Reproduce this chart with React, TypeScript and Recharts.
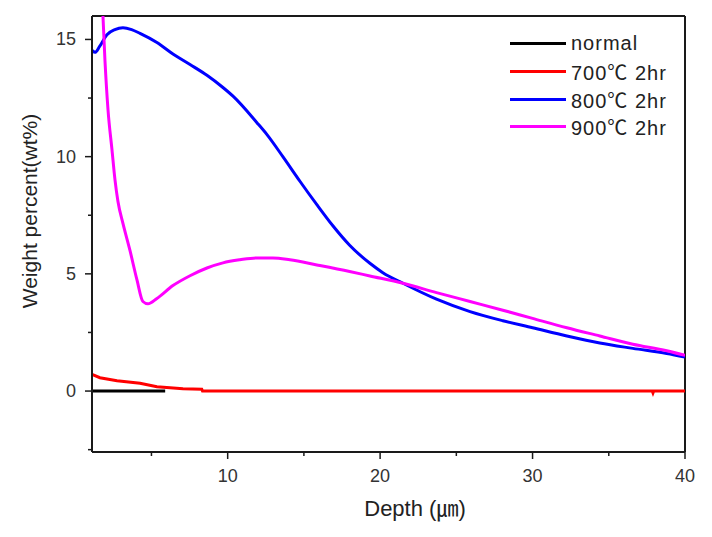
import { Label, Legend, Line, LineChart, ReferenceLine, XAxis, YAxis } from 'recharts';

// depth (um), weight percent (wt%)
const normalPts: [number, number][] = [
  [1.1, 0], [5.9, 0],
];
const t700Pts: [number, number][] = [
  [1.1, 0.71], [1.62, 0.57], [2.74, 0.44], [4.25, 0.33], [5.36, 0.18], [7.07, 0.1],
  [8.3, 0.08], [8.35, 0], [37.85, 0], [37.9, -0.08], [37.95, 0], [40, 0],
];
const t800Pts: [number, number][] = [
  [1.1, 14.53], [1.3, 14.45], [1.6, 14.7], [2.08, 15.2], [2.6, 15.42], [3.13, 15.5],
  [3.7, 15.42], [4.25, 15.26], [5.36, 14.87], [6.41, 14.38], [7.53, 13.93], [8.64, 13.47],
  [9.69, 12.95], [10.35, 12.58], [11.92, 11.45], [12.58, 10.94], [13.62, 10.0],
  [14.74, 8.95], [15.85, 7.95], [16.9, 7.05], [18.0, 6.22], [19.33, 5.45], [20.18, 5.05],
  [21.5, 4.6], [23.7, 3.92], [25.9, 3.39], [28.05, 3.0], [30, 2.7], [32.25, 2.35],
  [34.41, 2.05], [36.58, 1.82], [38.8, 1.6], [40, 1.45],
];
const t900Pts: [number, number][] = [
  [1.75, 17], [1.95, 14.1], [2.15, 12.0], [2.41, 10.3], [2.61, 9.0], [2.8, 8.1],
  [3.13, 7.15], [3.59, 6.0], [4.05, 4.74], [4.44, 3.82], [4.77, 3.72], [5.36, 3.95],
  [6.41, 4.5], [7.53, 4.92], [8.64, 5.25], [9.69, 5.47], [10.8, 5.6], [11.92, 5.68],
  [12.97, 5.68], [14.08, 5.6], [15.85, 5.38], [18.0, 5.1], [19.33, 4.91], [21.5, 4.6],
  [23.7, 4.2], [25.9, 3.82], [28.05, 3.45], [30, 3.1], [32.25, 2.7], [34.41, 2.35],
  [36.58, 2.0], [38.8, 1.72], [40, 1.52],
];

const xTicks = [5, 10, 15, 20, 25, 30, 35, 40];
const yTicks = [-2.5, 0, 2.5, 5, 7.5, 10, 12.5, 15];

const series = [
  { name: 'normal', color: '#000000', pts: normalPts, curve: 'linear' },
  { name: '700℃ 2hr', color: '#ff0000', pts: t700Pts, curve: 'linear' },
  { name: '800℃ 2hr', color: '#0000ff', pts: t800Pts, curve: 'monotone' },
  { name: '900℃ 2hr', color: '#ff00ff', pts: t900Pts, curve: 'monotone' },
];

const FONT = "Arial, 'Liberation Sans', 'Noto Sans CJK KR', sans-serif";
const AXIS = '#1a1a1a';

function toRows(pts: [number, number][]) {
  return pts.map(([x, y]) => ({ x, y }));
}

function XTick({ x, y, payload }: any) {
  const major = payload.value % 10 === 0;
  return (
    <g>
      <line x1={x} x2={x} y1={y} y2={y + (major ? 7 : 4)} stroke={AXIS} strokeWidth={1.5} />
      {major && (
        <text x={x} y={y + 30} textAnchor="middle" fontSize={18} fill="#333" fontFamily={FONT}>
          {payload.value}
        </text>
      )}
    </g>
  );
}

function YTick({ x, y, payload }: any) {
  const major = payload.value % 5 === 0;
  return (
    <g>
      <line x1={x} x2={x - (major ? 7 : 4)} y1={y} y2={y} stroke={AXIS} strokeWidth={1.5} />
      {major && (
        <text x={x - 16} y={y + 6} textAnchor="end" fontSize={18} fill="#333" fontFamily={FONT}>
          {payload.value}
        </text>
      )}
    </g>
  );
}

function LegendBox() {
  return (
    <div style={{ fontFamily: FONT, fontSize: 20, letterSpacing: 1, color: '#222' }}>
      {series.map((s) => (
        <div key={s.name} style={{ display: 'flex', alignItems: 'center', height: 27.7 }}>
          <span style={{ display: 'inline-block', width: 56, height: 3, background: s.color, marginRight: 5 }} />
          <span>{s.name}</span>
        </div>
      ))}
    </div>
  );
}

export default function App() {
  return (
    <LineChart width={700} height={525} margin={{ top: 8, right: 23, bottom: 41, left: 24 }}>
      <XAxis
        dataKey="x"
        type="number"
        domain={[1.1, 40]}
        allowDataOverflow
        ticks={xTicks}
        tick={<XTick />}
        tickLine={false}
        tickSize={0}
        tickMargin={0}
        height={40}
        axisLine={{ stroke: AXIS, strokeWidth: 2 }}
      >
        <Label
          content={() => (
            <text x={407} y={508} textAnchor="middle" fontSize={22} fill="#222" fontFamily={FONT}>
              Depth (㎛)
            </text>
          )}
        />
      </XAxis>
      <YAxis
        type="number"
        domain={[-2.6, 16]}
        allowDataOverflow
        ticks={yTicks}
        tick={<YTick />}
        tickLine={false}
        tickSize={0}
        tickMargin={0}
        width={60}
        axisLine={{ stroke: AXIS, strokeWidth: 2 }}
      >
        <Label
          content={() => (
            <text
              x={29}
              y={203}
              transform="rotate(-90 29 203)"
              textAnchor="middle"
              fontSize={21}
              fill="#222"
              fontFamily={FONT}
            >
              Weight percent(wt%)
            </text>
          )}
        />
      </YAxis>
      <ReferenceLine y={16} stroke={AXIS} strokeWidth={2} />
      <ReferenceLine x={40} stroke={AXIS} strokeWidth={2} />
      <Legend
        layout="vertical"
        align="center"
        verticalAlign="middle"
        content={<LegendBox />}
        wrapperStyle={{ left: 502, top: 22, width: 180, height: 115 }}
      />
      {series.map((s) => (
        <Line
          key={s.name}
          name={s.name}
          data={toRows(s.pts)}
          dataKey="y"
          type={s.curve as any}
          stroke={s.color}
          strokeWidth={3}
          dot={false}
          activeDot={false}
          isAnimationActive={false}
        />
      ))}
    </LineChart>
  );
}
